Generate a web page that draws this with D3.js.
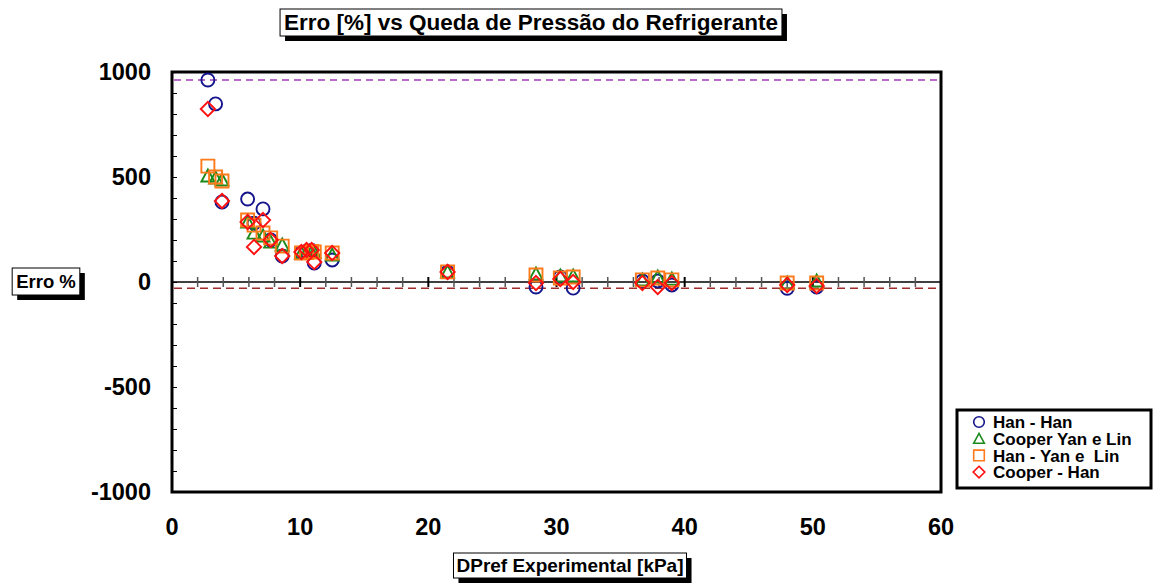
<!DOCTYPE html>
<html>
<head>
<meta charset="utf-8">
<script src="https://cdn.jsdelivr.net/npm/d3@7"></script>
<style>
  body { margin: 0; background: #fff; }
  text { font-family: "Liberation Sans", Arial, sans-serif; font-weight: bold; white-space: pre; }
</style>
</head>
<body>
<svg id="chart"></svg>
<script>
// DPref experimental [kPa]
const dpref = [2.8, 3.4, 3.9, 5.9, 6.4, 7.1, 7.7, 8.6, 10.1, 10.5, 10.9, 11.1, 12.5, 21.5, 28.4, 30.3, 31.3, 36.7, 37.9, 39.0, 48.0, 50.3];
// erro % per correlation pair
const hanHan       = [962, 848, 381, 395, 280, 348, 200, 124, 140, 145, 150, 90, 105, 48, -24, 24, -29, 5, 5, -14, -30, -24];
const cooperYanLin = [505, 495, 486, 286, 233, 219, 190, 176, 138, 142, 142, 140, 128, 48, 38, 29, 29, 10, 24, 14, -5, 5];
const hanYanLin    = [552, 500, 481, 295, 271, 233, 210, 171, 138, 140, 145, 143, 138, 48, 33, 19, 24, 10, 19, 10, -5, -5];
const cooperHan    = [824, null, 386, 286, 167, 295, 200, 124, 143, 152, 152, 95, 138, 48, -5, 14, 0, -5, -24, -5, -14, -19];

const seriesNames = ['Han - Han', 'Cooper Yan e Lin', 'Han - Yan e  Lin', 'Cooper - Han'];
const xTickLabels = [0, 10, 20, 30, 40, 50, 60];
const yTickLabels = [-1000, -500, 0, 500, 1000];

const width = 1153, height = 585;
const margin = {top: 72, right: 212, bottom: 93, left: 172};

const svg = d3.select('#chart')
  .attr('width', width)
  .attr('height', height);

const xScale = d3.scaleLinear().domain([0, 60]).range([margin.left, width - margin.right]);
const yScale = d3.scaleLinear().domain([-1000, 1000]).range([height - margin.bottom, margin.top]);

const colors = ['#14148c', '#1a8a1a', '#ff7a1a', '#ff1010'];
const shapes = ['circle', 'triangle', 'square', 'diamond'];

function symbolPath(shape, s) {
  // s = half size
  if (shape === 'circle') return d3.symbol(d3.symbolCircle, Math.PI * s * s)();
  if (shape === 'square') return `M${-s},${-s}H${s}V${s}H${-s}Z`;
  if (shape === 'diamond') { const d = s * 1.1; return `M0,${-d}L${d},0L0,${d}L${-d},0Z`; }
  return `M0,${-s}L${s},${s * 0.85}L${-s},${s * 0.85}Z`;
}

// frame
svg.append('rect')
  .attr('x', xScale(0)).attr('y', yScale(1000))
  .attr('width', xScale(60) - xScale(0))
  .attr('height', yScale(-1000) - yScale(1000))
  .attr('fill', 'none').attr('stroke', '#000').attr('stroke-width', 3);

// y axis: inside ticks every 100
const yAxis = d3.axisRight(yScale)
  .tickValues(d3.range(-1000, 1001, 100))
  .tickSize(5)
  .tickFormat('');
const yAxisG = svg.append('g').attr('transform', `translate(${xScale(0)},0)`).call(yAxis);
yAxisG.select('.domain').remove();
yAxisG.selectAll('line').attr('stroke', '#000');

// y labels
svg.append('g').selectAll('text')
  .data(yTickLabels)
  .join('text')
  .attr('x', 151)
  .attr('y', d => yScale(d))
  .attr('dy', '0.36em')
  .attr('text-anchor', 'end')
  .attr('font-size', 23.5)
  .text(d => d);

// x labels
svg.append('g').selectAll('text')
  .data(xTickLabels)
  .join('text')
  .attr('x', d => xScale(d))
  .attr('y', 527)
  .attr('dy', '0.36em')
  .attr('text-anchor', 'middle')
  .attr('font-size', 23.5)
  .text(d => d);

// zero line with crossing ticks
svg.append('line')
  .attr('x1', xScale(0)).attr('x2', xScale(60))
  .attr('y1', yScale(0)).attr('y2', yScale(0))
  .attr('stroke', '#000').attr('stroke-width', 1.3);

svg.append('g').selectAll('line')
  .data(d3.range(2, 60, 2))
  .join('line')
  .attr('x1', d => xScale(d)).attr('x2', d => xScale(d))
  .attr('y1', yScale(0) - 5).attr('y2', yScale(0) + 5)
  .attr('stroke', d => d % 10 === 0 ? '#000' : '#555')
  .attr('stroke-width', d => d % 10 === 0 ? 2 : 1.5);

// max / min reference lines
const maxErr = d3.max(hanHan), minErr = d3.min(hanHan);
svg.append('line')
  .attr('x1', xScale(0) + 2).attr('x2', xScale(60) - 2)
  .attr('y1', yScale(maxErr)).attr('y2', yScale(maxErr))
  .attr('stroke', '#b66cc8').attr('stroke-width', 2)
  .attr('stroke-dasharray', '7,5');
svg.append('line')
  .attr('x1', xScale(0) + 2).attr('x2', xScale(60) - 2)
  .attr('y1', yScale(minErr)).attr('y2', yScale(minErr))
  .attr('stroke', '#a02c2c').attr('stroke-width', 1.5)
  .attr('stroke-dasharray', '8,5');

// points
const allSeries = [hanHan, cooperYanLin, hanYanLin, cooperHan];
allSeries.forEach((vals, i) => {
  const pts = dpref.map((x, j) => ({x: x, y: vals[j]})).filter(d => d.y !== null);
  svg.append('g').attr('class', `series s${i}`)
    .selectAll('path')
    .data(pts)
    .join('path')
    .attr('transform', d => `translate(${xScale(d.x)},${yScale(d.y)})`)
    .attr('d', symbolPath(shapes[i], 6.5))
    .attr('fill', 'none')
    .attr('stroke', colors[i])
    .attr('stroke-width', 1.9);
});

// boxed label with shadow
function boxedText(x, y, str, size, pad) {
  const g = svg.append('g');
  const t = g.append('text')
    .attr('x', x).attr('y', y)
    .attr('text-anchor', 'middle')
    .attr('font-size', size)
    .text(str);
  const b = t.node().getBBox();
  g.insert('rect', 'text')
    .attr('x', b.x - pad.x + 5).attr('y', b.y - pad.y + 5)
    .attr('width', b.width + 2 * pad.x).attr('height', b.height + 2 * pad.y)
    .attr('fill', '#000');
  g.insert('rect', 'text')
    .attr('x', b.x - pad.x).attr('y', b.y - pad.y)
    .attr('width', b.width + 2 * pad.x).attr('height', b.height + 2 * pad.y)
    .attr('fill', '#fff').attr('stroke', '#000').attr('stroke-width', 1);
}

boxedText(531, 30, 'Erro [%] vs Queda de Pressão do Refrigerante', 22.5, {x: 4, y: 1});
boxedText(46, 288, 'Erro %', 18.5, {x: 4, y: 3});
boxedText(570, 572, 'DPref Experimental [kPa]', 19, {x: 3, y: 2});

// legend
const legend = svg.append('g');
legend.append('rect')
  .attr('x', 957).attr('y', 410).attr('width', 194).attr('height', 78)
  .attr('fill', '#fff').attr('stroke', '#000').attr('stroke-width', 3);
seriesNames.forEach((name, i) => {
  const cy = 422 + i * 16.7;
  legend.append('path')
    .attr('transform', `translate(979,${cy})`)
    .attr('d', symbolPath(shapes[i], 5.3))
    .attr('fill', 'none').attr('stroke', colors[i]).attr('stroke-width', 1.6);
  legend.append('text')
    .attr('x', 993).attr('y', cy)
    .attr('dy', '0.36em')
    .attr('font-size', 17)
    .text(name);
});
</script>
</body>
</html>
